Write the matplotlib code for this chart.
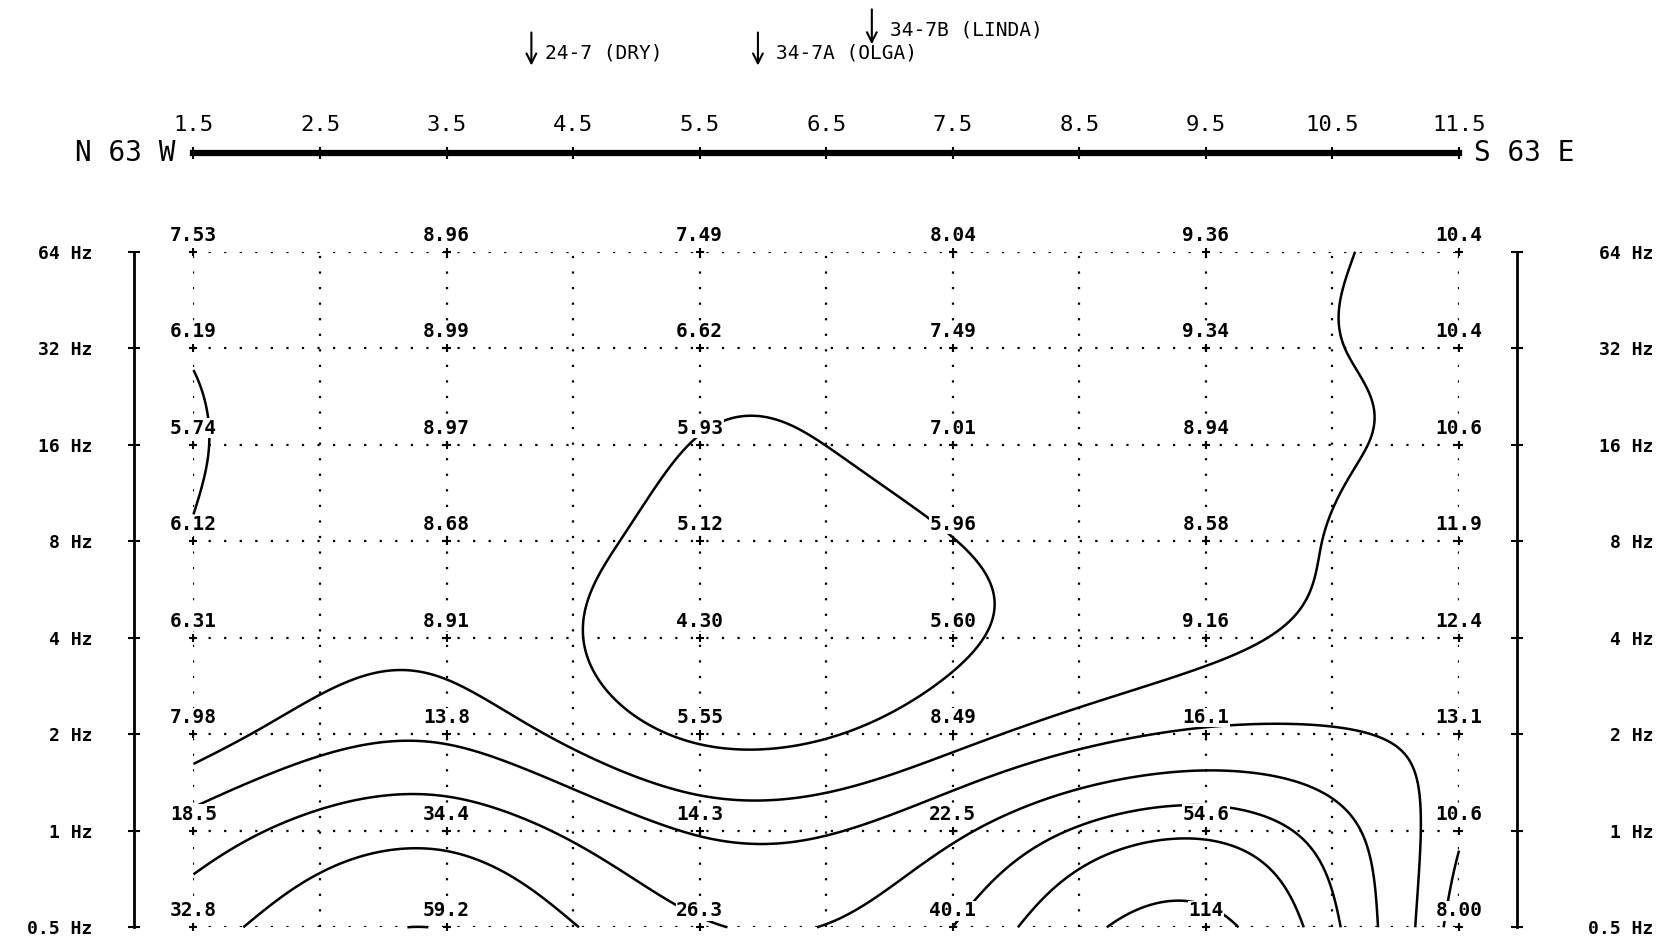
import numpy as np
import matplotlib.pyplot as plt

# station positions along the profile and frequency rows (top to bottom)
positions = [1.5, 3.5, 5.5, 7.5, 9.5, 11.5]
freqs = [64, 32, 16, 8, 4, 2, 1, 0.5]
freq_labels = ['64 Hz', '32 Hz', '16 Hz', '8 Hz', '4 Hz', '2 Hz', '1 Hz', '0.5 Hz']

# apparent resistivity values, one list per frequency
rho_64 = [7.53, 8.96, 7.49, 8.04, 9.36, 10.4]
rho_32 = [6.19, 8.99, 6.62, 7.49, 9.34, 10.4]
rho_16 = [5.74, 8.97, 5.93, 7.01, 8.94, 10.6]
rho_8 = [6.12, 8.68, 5.12, 5.96, 8.58, 11.9]
rho_4 = [6.31, 8.91, 4.30, 5.60, 9.16, 12.4]
rho_2 = [7.98, 13.8, 5.55, 8.49, 16.1, 13.1]
rho_1 = [18.5, 34.4, 14.3, 22.5, 54.6, 10.6]
rho_05 = [32.8, 59.2, 26.3, 40.1, 114, 8.00]

levels = [6, 10, 15, 25, 40, 60, 100]
profile_ticks = [1.5, 2.5, 3.5, 4.5, 5.5, 6.5, 7.5, 8.5, 9.5, 10.5, 11.5]

wells = ['24-7 (DRY)', '34-7A (OLGA)', '34-7B (LINDA)']
well_x = [4.17, 5.96, 6.86]

FONT = 'DejaVu Sans Mono'


def spline_weights(xk, xf):
    # natural cubic spline as a linear operator: yf = W @ yk
    xk = np.asarray(xk, float)
    n = len(xk)
    h = np.diff(xk)
    A = np.zeros((n, n))
    B = np.zeros((n, n))
    A[0, 0] = A[-1, -1] = 1
    for i in range(1, n - 1):
        A[i, i - 1] = h[i - 1]
        A[i, i] = 2 * (h[i - 1] + h[i])
        A[i, i + 1] = h[i]
        B[i, i - 1] = 6 / h[i - 1]
        B[i, i] = -6 / h[i - 1] - 6 / h[i]
        B[i, i + 1] = 6 / h[i]
    M = np.linalg.solve(A, B)
    idx = np.clip(np.searchsorted(xk, xf) - 1, 0, n - 2)
    W = np.zeros((len(xf), n))
    for j, (x, i) in enumerate(zip(xf, idx)):
        hi = h[i]
        a = (xk[i + 1] - x) / hi
        b = (x - xk[i]) / hi
        W[j, i] += a
        W[j, i + 1] += b
        W[j] += ((a ** 3 - a) * M[i] + (b ** 3 - b) * M[i + 1]) * hi ** 2 / 6
    return W


def fmt(v):
    return f'{v:#.3g}'.rstrip('.')


V = np.array([rho_64, rho_32, rho_16, rho_8, rho_4, rho_2, rho_1, rho_05])
logf = np.log2(freqs)

# smooth the grid (in log resistivity) for contouring
order = np.argsort(logf)
xf = np.linspace(positions[0], positions[-1], 301)
yf = np.linspace(logf.min(), logf.max(), 211)
Z = spline_weights(logf[order], yf) @ np.log10(V[order]) @ spline_weights(positions, xf).T

fig = plt.figure(figsize=(16.58, 9.42), dpi=100)
ax = fig.add_axes([0.1167, 0.0156, 0.7633, 0.7172])
ax.set_xlim(1.5, 11.5)
ax.set_ylim(-1, 6)

cs = ax.contour(xf, yf, Z, levels=np.log10(levels), colors='k', linewidths=1.8)
cs.set_clip_on(False)

# data nodes and their values
PX, PY = np.meshgrid(positions, logf)
ax.plot(PX.ravel(), PY.ravel(), '+', color='k', ms=6, mew=1.5, clip_on=False, zorder=4)
for r, row in enumerate(V):
    for c, v in enumerate(row):
        ax.annotate(fmt(v), (positions[c], logf[r]), xytext=(0, 12), textcoords='offset points',
                    ha='center', va='center', fontsize=14, family=FONT, weight='bold', zorder=5,
                    bbox=dict(fc='white', ec='none', pad=0.3), annotation_clip=False)

# dotted grid
ax.set_xticks(profile_ticks)
ax.set_yticks(logf)
ax.grid(True, color='k', linestyle=(0, (1, 6)), linewidth=1.6)
for gl in ax.get_xgridlines() + ax.get_ygridlines():
    gl.set_clip_on(False)

# profile axis on top
ax.xaxis.tick_top()
ax.spines['top'].set_position(('data', 7.02))
ax.spines['top'].set_linewidth(4.5)
ax.tick_params(axis='x', direction='inout', length=8, width=1.5, pad=9, labelsize=16)
for lab in ax.get_xticklabels():
    lab.set_family(FONT)
ax.text(1.36, 7.02, 'N 63 W', ha='right', va='center', fontsize=20, family=FONT)
ax.text(11.62, 7.02, 'S 63 E', ha='left', va='center', fontsize=20, family=FONT)

# frequency axes
ax.spines['left'].set_position(('data', 1.032))
ax.spines['left'].set_linewidth(2)
ax.spines['bottom'].set_visible(False)
ax.spines['right'].set_visible(False)
ax.set_yticklabels(freq_labels)
ax.tick_params(axis='y', direction='inout', length=8, width=1.5, pad=26, labelsize=13)
for lab in ax.get_yticklabels():
    lab.set_family(FONT)
    lab.set_weight('bold')

sec = ax.secondary_yaxis(1.046)
sec.set_yticks(logf)
sec.set_yticklabels(freq_labels)
sec.spines['right'].set_linewidth(2)
sec.tick_params(direction='inout', length=8, width=1.5, pad=94, labelsize=13)
for lab in sec.get_yticklabels():
    lab.set_family(FONT)
    lab.set_weight('bold')
    lab.set_horizontalalignment('right')

# well markers
arrow = dict(arrowstyle='->,head_length=0.7,head_width=0.35', lw=1.5, color='k')
ax.annotate('', xy=(well_x[0], 7.90), xytext=(well_x[0], 8.30), arrowprops=arrow,
            annotation_clip=False)
ax.text(well_x[0] + 0.11, 8.06, wells[0], ha='left', va='center', fontsize=14, family=FONT)
ax.annotate('', xy=(well_x[1], 7.90), xytext=(well_x[1], 8.30), arrowprops=arrow,
            annotation_clip=False)
ax.text(well_x[1] + 0.14, 8.06, wells[1], ha='left', va='center', fontsize=14, family=FONT)
ax.annotate('', xy=(well_x[2], 8.12), xytext=(well_x[2], 8.54), arrowprops=arrow,
            annotation_clip=False)
ax.text(well_x[2] + 0.14, 8.30, wells[2], ha='left', va='center', fontsize=14, family=FONT)

fig.savefig('out.png', dpi=100)
